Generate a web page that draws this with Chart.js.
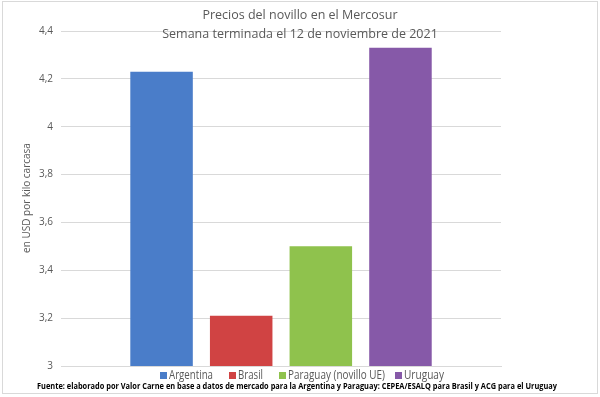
<!DOCTYPE html>
<html>
<head>
<meta charset="utf-8">
<script src="https://cdn.jsdelivr.net/npm/chart.js@4.4.0/dist/chart.umd.min.js"></script>
<style>
  html, body { margin: 0; padding: 0; background: #fff; }
  #wrap { position: relative; width: 600px; height: 397px; }
  #frame { position: absolute; left: 2px; top: 1px; width: 594px; height: 391px; border: 1px solid #d9d9d9; pointer-events: none; }
</style>
</head>
<body>
<div id="wrap">
  <canvas id="grafico" width="600" height="397"></canvas>
  <div id="frame"></div>
</div>
<script>
var paises = ['Argentina', 'Brasil', 'Paraguay (novillo UE)', 'Uruguay'];
var precios = [4.23, 3.21, 3.50, 4.33];
var colores = ['#4a7dc9', '#d04343', '#8fc24d', '#8659a8'];
var ticksY = [3, 3.2, 3.4, 3.6, 3.8, 4, 4.2, 4.4];
var titulo = ['Precios del novillo en el Mercosur', 'Semana terminada el 12 de noviembre de 2021'];
var tituloY = 'en USD por kilo carcasa';
var fuente = 'Fuente: elaborado por Valor Carne en base a datos de mercado para la Argentina y Paraguay: CEPEA/ESALQ para Brasil y ACG para el Uruguay';

var datasets = paises.map(function (p, i) {
  return {
    label: p,
    data: [precios[i]],
    backgroundColor: colores[i],
    categoryPercentage: 0.724,
    barPercentage: 0.785
  };
});

// posiciones de la leyenda (caja x, ancho del texto)
var leyendaX = [160, 229, 279, 395];
var leyendaAncho = [44, 25, 97, 40];

// titulos, leyenda y fuente dibujados a mano
var textos = {
  id: 'textos',
  afterDraw: function (chart) {
    var ctx = chart.ctx;
    ctx.save();
    ctx.textAlign = 'center';
    ctx.textBaseline = 'middle';
    ctx.fillStyle = '#595959';
    ctx.font = '12.5px "Open Sans", sans-serif';
    ctx.fillText(titulo[0], 300, 15);
    ctx.fillText(titulo[1], 300, 34);

    ctx.save();
    ctx.translate(27, 198);
    ctx.rotate(-Math.PI / 2);
    ctx.font = '10px "Open Sans", sans-serif';
    ctx.fillText(tituloY, 0, 0);
    ctx.restore();

    // leyenda
    ctx.font = '12.5px "Open Sans", sans-serif';
    ctx.textAlign = 'left';
    paises.forEach(function (p, i) {
      ctx.fillStyle = chart.data.datasets[i].backgroundColor;
      ctx.fillRect(leyendaX[i], 372, 7, 7);
      ctx.fillStyle = '#595959';
      ctx.fillText(p, leyendaX[i] + 9, 375.5, leyendaAncho[i]);
    });

    ctx.textAlign = 'center';
    ctx.fillStyle = '#000';
    ctx.font = 'bold 8.5px "Open Sans", sans-serif';
    ctx.fillText(fuente, 297, 386.5, 520);
    ctx.restore();
  }
};

new Chart(document.getElementById('grafico').getContext('2d'), {
  type: 'bar',
  data: { labels: [''], datasets: datasets },
  plugins: [textos],
  options: {
    responsive: false,
    animation: false,
    layout: { padding: { left: 31, right: 99, top: 31, bottom: 23 } },
    plugins: {
      title: { display: false },
      tooltip: { enabled: false },
      legend: { display: false }
    },
    scales: {
      x: {
        ticks: { display: false },
        grid: { display: false },
        border: { color: '#d9d9d9' }
      },
      y: {
        min: 3,
        max: 4.4,
        afterBuildTicks: function (axis) {
          axis.ticks = ticksY.map(function (v) { return { value: v }; });
        },
        ticks: {
          color: '#595959',
          font: { size: 10, family: '"Open Sans", sans-serif' },
          padding: 8,
          callback: function (v) { return String(Math.round(v * 10) / 10).replace('.', ','); }
        },
        grid: { color: '#d9d9d9', drawTicks: false },
        border: { display: false }
      }
    }
  }
});
</script>
</body>
</html>
